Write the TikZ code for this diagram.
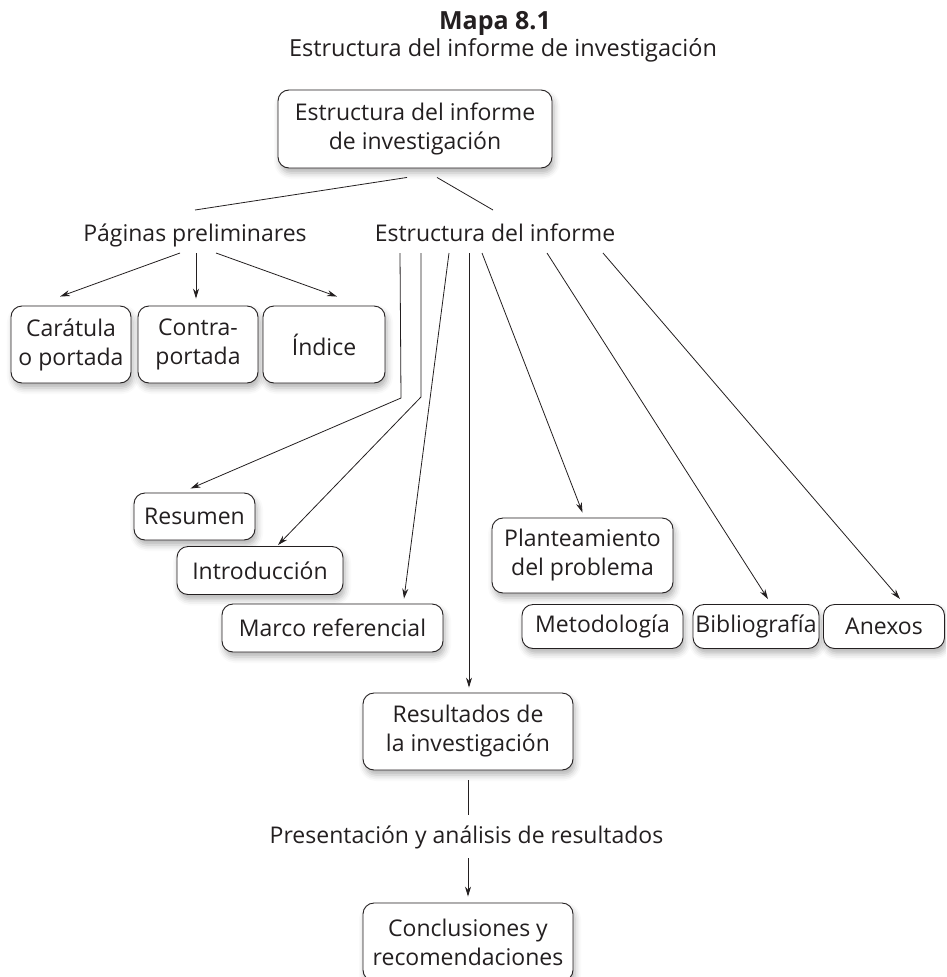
\documentclass[tikz,border=0pt]{standalone}
\usepackage{fontspec}
\setmainfont{Open Sans}
\usetikzlibrary{arrows.meta,shadows.blur,calc}
\definecolor{ink}{HTML}{231F20}
\begin{document}
\begin{tikzpicture}[x=1pt,y=-1pt,
  font=\fontsize{23}{29}\selectfont, text=ink,
  box/.style={draw=ink, line width=0.9pt, rounded corners=11pt, fill=white,
    align=center, inner sep=0pt,
    blur shadow={shadow xshift=2pt, shadow yshift=-5pt, shadow blur radius=6pt, shadow opacity=30}},
  lbl/.style={inner sep=0pt, anchor=base},
  conn/.style={line width=0.8pt, draw=ink},
  arr/.style={conn, -{Stealth[length=10pt,width=6pt]}}]
\useasboundingbox (0,0) rectangle (946,977);
\clip (0,0) rectangle (946,977);

% titles
\node[lbl, font=\fontsize{25}{29}\selectfont\bfseries] (title) at (495,29) {Mapa 8.1};
\node[lbl, font=\fontsize{23.5}{29}\selectfont] (subtitle) at (503,56) {Estructura del informe de investigación};

% boxes
\node[box, minimum width=274, minimum height=78] (top) at (415,129) {Estructura del informe\\de investigación};
\node[lbl] (pp) at (195,241) {Páginas preliminares};
\node[lbl] (ei) at (495,241) {Estructura del informe};

\node[box, minimum width=120, minimum height=77] (car) at (71,344.5) {Carátula\\o portada};
\node[box, minimum width=120, minimum height=77] (con) at (198,344.5) {Contra-\\portada};
\node[box, minimum width=122, minimum height=77] (ind) at (324,344.5) {Índice};

\node[box, minimum width=121, minimum height=47] (resu) at (194.5,516.5) {Resumen};
\node[box, minimum width=166, minimum height=48] (intro) at (260,570.5) {Introducción};
\node[box, minimum width=221, minimum height=48] (marco) at (332.5,628) {Marco referencial};
\node[box, minimum width=181, minimum height=75] (plan) at (582.5,555.5) {Planteamiento\\del problema};
\node[box, minimum width=161, minimum height=44] (meto) at (602.5,626.5) {Metodología};
\node[box, minimum width=126, minimum height=44] (bibl) at (756,626.5) {Bibliografía};
\node[box, minimum width=121, minimum height=44] (anex) at (884,626.5) {Anexos};

\node[box, minimum width=210, minimum height=77] (resul) at (468,731.5) {Resultados de\\la investigación};
\node[lbl] (pres) at (466.5,843) {Presentación y análisis de resultados};
\node[box, minimum width=210, minimum height=78] (concl) at (468,942) {Conclusiones y\\recomendaciones};

% connectors from top box
\draw[conn] ($(top.south)+(-8,9)$) -- ($(pp.base)+(0,-31)$);
\draw[conn] ($(top.south)+(22,9)$) -- ($(ei.base)+(-2,-31)$);

% from Páginas preliminares
\draw[arr] ($(pp.base)+(-15,12)$) -- ($(car.north)+(-11,-9)$);
\draw[arr] ($(pp.base)+(1,12)$) -- ($(con.north)+(-2,-7)$);
\draw[arr] ($(pp.base)+(21,12)$) -- ($(ind.north)+(13,-9)$);

% from Estructura del informe
\coordinate (e1) at ($(ei.base)+(-95,12)$);
\coordinate (e2) at ($(ei.base)+(-74,12)$);
\coordinate (e3) at ($(ei.base)+(-46,12)$);
\coordinate (e4) at ($(ei.base)+(-26,12)$);
\coordinate (e5) at ($(ei.base)+(-13,12)$);
\coordinate (e6) at ($(ei.base)+(52,12)$);
\coordinate (e7) at ($(ei.base)+(108,12)$);

\draw[arr] (e1) -- ($(e1)+(1,145)$) -- ($(resu.north)+(-4,-4)$);
\draw[arr] (e2) -- ($(e2)+(0,144)$) -- ($(intro.north)+(18,-1)$);
\draw[arr] (e3) -- ($(marco.north)+(71.5,-5)$);
\draw[arr] (e4) -- ($(e4 |- resul.north)+(0,-5)$);
\draw[arr] (e5) -- ($(plan.north)+(0,-5)$);
\draw[arr] (e6) -- ($(bibl.north)+(12,-5)$);
\draw[arr] (e7) -- ($(anex.north)+(16,-5)$);

% lower chain
\draw[conn] ($(resul.south)+(0,10)$) -- ($(pres.base)+(1.5,-28)$);
\draw[arr] ($(pres.base)+(1.5,15)$) -- ($(concl.north)+(0,-6)$);
\end{tikzpicture}
\end{document}
